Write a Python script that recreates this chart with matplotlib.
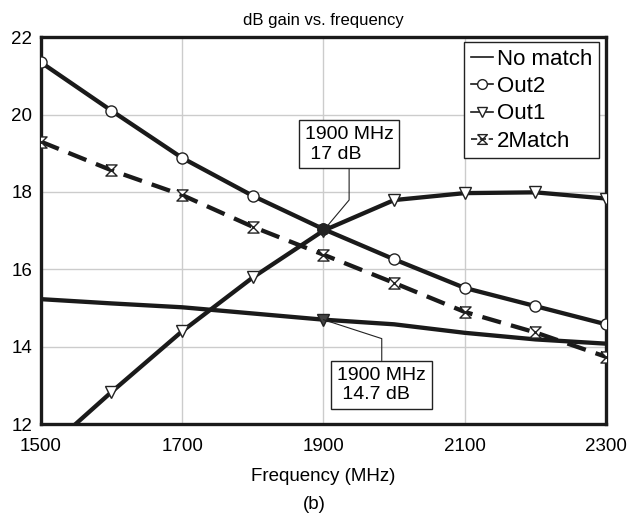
import numpy as np
import matplotlib
matplotlib.use("Agg")
import matplotlib.pyplot as plt
from matplotlib.lines import Line2D

plt.rcParams['font.family'] = ['Liberation Sans', 'DejaVu Sans']

freq = [1500, 1600, 1700, 1800, 1900, 2000, 2100, 2200, 2300]
no_match = [15.23, 15.12, 15.02, 14.86, 14.7, 14.58, 14.36, 14.19, 14.08]
out2 = [21.35, 20.1, 18.88, 17.9, 17.04, 16.26, 15.52, 15.05, 14.58]
out1 = [11.2, 12.83, 14.4, 15.79, 17.0, 17.79, 17.97, 17.99, 17.83]
match2 = [19.3, 18.56, 17.92, 17.1, 16.38, 15.65, 14.9, 14.37, 13.74]

x_ticks = [1500, 1700, 1900, 2100, 2300]
y_ticks = [12, 14, 16, 18, 20, 22]

hourglass = [(-1, 1), (1, 1), (-1, -1), (1, -1), (-1, 1)]

fig = plt.figure(figsize=(6.28, 5.16), dpi=100)
ax = fig.add_axes([0.065, 0.178, 0.9, 0.75])

lw = 3.1
ms = 8
mk = dict(markerfacecolor='white', markeredgecolor='#222222', markeredgewidth=1.0, markersize=ms)

ax.plot(freq, no_match, color='#1a1a1a', lw=lw, marker='v', markevery=[4],
        markerfacecolor='#444444', markeredgecolor='#222222', markersize=ms, zorder=3)
ax.plot(freq, out2, color='#1a1a1a', lw=lw, marker='o', **mk, zorder=3)
ax.plot(freq, out1, color='#1a1a1a', lw=lw, marker='v', **mk, zorder=3)
ax.plot(freq, match2, color='#1a1a1a', lw=lw, dashes=(4.5, 2.4), marker=hourglass, **mk, zorder=3)
# highlighted point at 1900 MHz
ax.plot(freq[4], out2[4], marker='o', color='#222222', markersize=ms, zorder=4)

ax.set_xlim(1500, 2300)
ax.set_ylim(12, 22)
ax.set_xticks(x_ticks)
ax.set_yticks(y_ticks)
ax.tick_params(length=0, labelsize=13.5)
ax.tick_params(axis='x', pad=10)
ax.tick_params(axis='y', pad=6)
ax.grid(color='#cccccc', lw=1.0)
ax.set_axisbelow(True)
for s in ax.spines.values():
    s.set_linewidth(2.4)
    s.set_color('#1a1a1a')

ax.set_title('dB gain vs. frequency', fontsize=12, pad=9)
ax.set_xlabel('Frequency (MHz)', fontsize=13.5, labelpad=9)
fig.text(0.5, 0.023, '(b)', ha='center', va='center', fontsize=13.5)

box = dict(boxstyle='square,pad=0.3', fc='white', ec='#222222', lw=1.0)
ax.annotate('1900 MHz\n 17 dB', xy=(freq[4], out1[4]), xytext=(18.5, 49),
            textcoords='offset points', ha='center', va='bottom', fontsize=14,
            multialignment='left', linespacing=1.2, bbox=box, zorder=5,
            arrowprops=dict(arrowstyle='-', lw=0.8, color='#222222', relpos=(0.5, 0),
                            shrinkA=0, shrinkB=0,
                            connectionstyle='angle,angleA=90,angleB=50,rad=0'))
ax.annotate('1900 MHz\n 14.7 dB', xy=(freq[4], no_match[4]), xytext=(42, -34),
            textcoords='offset points', ha='center', va='top', fontsize=14,
            multialignment='left', linespacing=1.2, bbox=box, zorder=5,
            arrowprops=dict(arrowstyle='-', lw=0.8, color='#222222', relpos=(0.5, 1),
                            shrinkA=0, shrinkB=0,
                            connectionstyle='angle,angleA=90,angleB=-18,rad=0'))

hmk = dict(markerfacecolor='white', markeredgecolor='#222222', markeredgewidth=1.0, markersize=7)
handles = [
    Line2D([], [], color='#1a1a1a', lw=1.2),
    Line2D([], [], color='#1a1a1a', lw=1.2, marker='o', **hmk),
    Line2D([], [], color='#1a1a1a', lw=1.2, marker='v', **hmk),
    Line2D([], [], color='#1a1a1a', lw=1.2, ls='--', marker=hourglass, **hmk),
]
leg = ax.legend(handles, ['No match', 'Out2', 'Out1', '2Match'], loc='upper right',
                bbox_to_anchor=(0.988, 0.987), borderaxespad=0, fontsize=16,
                handlelength=1.0, handletextpad=0.2, borderpad=0.3, labelspacing=0.28,
                fancybox=False, framealpha=1, edgecolor='#222222')
leg.get_frame().set_linewidth(1.0)

fig.savefig('out.png', dpi=100)
